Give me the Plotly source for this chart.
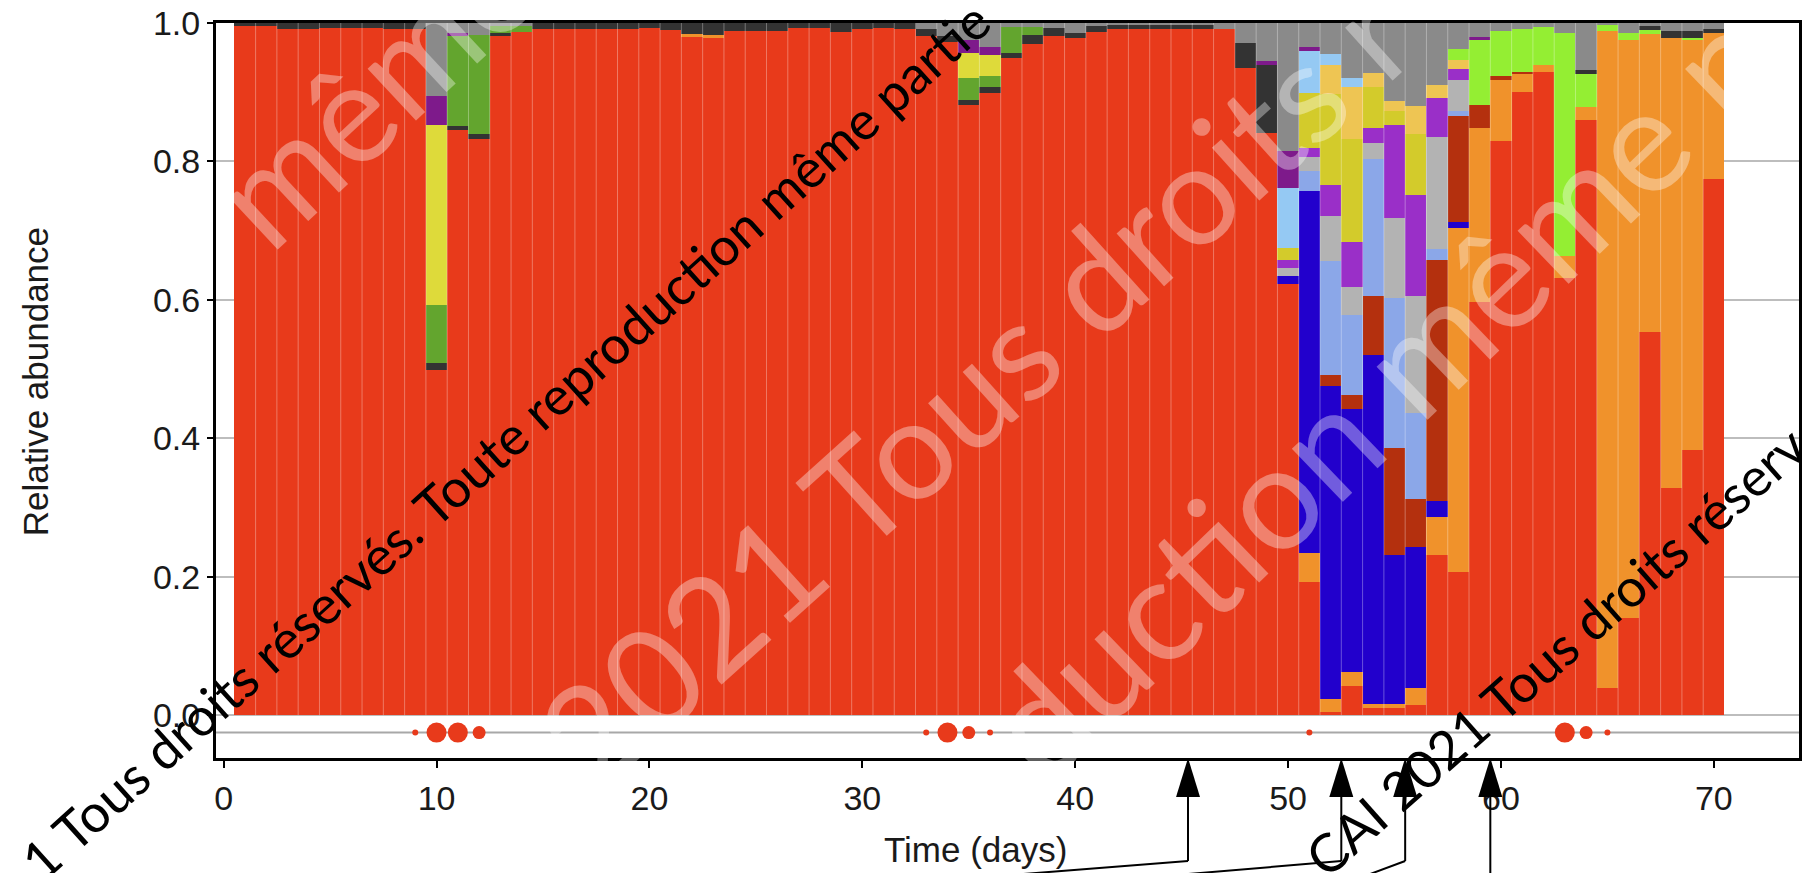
import plotly.graph_objects as go

# ---------------- data ----------------
DAYS = list(range(1, 71))

RED = [0.995, 0.995, 0.991, 0.991, 0.993, 0.993, 0.993, 0.991, 0.991, 0.499,
       0.845, 0.832, 0.981, 0.987, 0.991, 0.991, 0.991, 0.991, 0.991, 0.993,
       0.990, 0.980, 0.979, 0.989, 0.989, 0.989, 0.993, 0.993, 0.987, 0.992,
       0.993, 0.991, 0.981, 0.973, 0.882, 0.899, 0.950, 0.970, 0.981, 0.978,
       0.987, 0.992, 0.992, 0.992, 0.992, 0.992, 0.992, 0.935, 0.841, 0.623,
       0.193, 0.005, 0.043, 0.011, 0.010, 0.015, 0.231, 0.207, 0.597, 0.830,
       0.900, 0.929, 0.632, 0.860, 0.039, 0.140, 0.554, 0.328, 0.383, 0.774]

DARKGRAY = [0.005, 0.005, 0.009, 0.009, 0.007, 0.007, 0.007, 0.009, 0.009, 0.010,
            0.006, 0.007, 0.004, 0.000, 0.009, 0.009, 0.009, 0.009, 0.009, 0.007,
            0.010, 0.016, 0.017, 0.011, 0.011, 0.011, 0.007, 0.007, 0.013, 0.008,
            0.007, 0.009, 0.010, 0.008, 0.007, 0.008, 0.007, 0.012, 0.012, 0.008,
            0.008, 0.005, 0.005, 0.005, 0.005, 0.005, 0.000, 0.036, 0.099, 0.000,
            0.000, 0.000, 0.000, 0.000, 0.000, 0.000, 0.000, 0.000, 0.000, 0.000,
            0.000, 0.000, 0.000, 0.006, 0.000, 0.000, 0.006, 0.010, 0.009, 0.005]

# sparse taxa: {day: relative abundance}
ORANGE = {22: 0.004, 23: 0.004, 51: 0.041, 52: 0.019, 53: 0.019, 54: 0.006, 55: 0.007,
          56: 0.024, 57: 0.055, 58: 0.497, 59: 0.251, 60: 0.088, 61: 0.026, 62: 0.011,
          63: 0.031, 64: 0.019, 65: 0.950, 66: 0.836, 67: 0.430, 68: 0.650, 69: 0.592,
          70: 0.212}
BLUE = {50: 0.011, 51: 0.523, 52: 0.451, 53: 0.381, 54: 0.504, 55: 0.215, 56: 0.204,
        57: 0.024, 58: 0.009}
DARKRED = {52: 0.017, 53: 0.019, 54: 0.084, 55: 0.154, 56: 0.070, 57: 0.347, 58: 0.152,
           59: 0.034, 60: 0.005, 61: 0.003}
PERIWINKLE = {51: 0.029, 52: 0.164, 53: 0.116, 54: 0.198, 55: 0.217, 56: 0.123,
              57: 0.017, 58: 0.008}
LIGHTGRAY = {50: 0.012, 51: 0.021, 52: 0.065, 53: 0.041, 54: 0.024, 55: 0.115,
             56: 0.169, 57: 0.161, 58: 0.044}
VIOLET = {50: 0.012, 51: 0.012, 52: 0.045, 53: 0.065, 54: 0.021, 55: 0.135, 56: 0.147,
          57: 0.056, 58: 0.017}
MUSTARD = {50: 0.017, 51: 0.080, 52: 0.131, 53: 0.149, 54: 0.060, 55: 0.020, 56: 0.087}
GOLD = {52: 0.043, 53: 0.075, 54: 0.020, 55: 0.014, 56: 0.041, 57: 0.019, 58: 0.012}
LIGHTBLUE = {50: 0.086, 51: 0.061, 52: 0.015, 53: 0.012}
LIME = {58: 0.016, 59: 0.093, 60: 0.065, 61: 0.062, 62: 0.054, 63: 0.323, 64: 0.047,
        65: 0.008, 66: 0.009, 67: 0.006, 69: 0.004}
GREEN = {10: 0.084, 11: 0.130, 12: 0.144, 13: 0.010, 14: 0.008, 35: 0.032, 36: 0.016,
         37: 0.037, 38: 0.012}
LEMON = {10: 0.259, 35: 0.036, 36: 0.031}
DARKPURPLE = {10: 0.042, 11: 0.005, 35: 0.019, 36: 0.012, 49: 0.005, 50: 0.054,
              51: 0.006, 59: 0.005}
GRAY = {10: 0.106, 11: 0.014, 12: 0.017, 13: 0.005, 14: 0.005, 33: 0.009, 34: 0.019,
        35: 0.024, 36: 0.034, 37: 0.006, 38: 0.006, 39: 0.007, 40: 0.014, 41: 0.005,
        42: 0.003, 43: 0.003, 44: 0.003, 45: 0.003, 46: 0.003, 47: 0.008, 48: 0.029,
        49: 0.055, 50: 0.185, 51: 0.034, 52: 0.045, 53: 0.080, 54: 0.072, 55: 0.113,
        56: 0.120, 57: 0.090, 58: 0.038, 59: 0.020, 60: 0.012, 61: 0.009, 62: 0.006,
        63: 0.014, 64: 0.068, 65: 0.003, 66: 0.015, 67: 0.004, 68: 0.012, 69: 0.012,
        70: 0.009}

# event markers under the bars (day, marker size class)
DOT_DAYS = [9, 10, 11, 12, 33, 34, 35, 36, 51, 63, 64, 65]
DOT_SIZE = ["s", "l", "l", "m", "s", "l", "m", "s", "s", "l", "m", "s"]
DOT_LEVEL = -0.025

X_TICKS = [0, 10, 20, 30, 40, 50, 60, 70]
Y_TICKS = [0.0, 0.2, 0.4, 0.6, 0.8, 1.0]

ARROW_DAYS = [45.3, 52.5, 55.5, 59.5]
ARROW_LEAD_END = [34.0, 42.0, 53.1, None]

# ---------------- styling ----------------
XMIN, XMAX = -0.36, 74.0
YMIN, YMAX = -0.0617, 1.0
W, H = 1805, 873
ML, MR, MT, MB = 216, 3, 23, 115
PW, PH = W - ML - MR, H - MT - MB

STACK = [
    ("Taxon red", RED, "#E83A1B"),
    ("Taxon orange", ORANGE, "#F0922B"),
    ("Taxon blue", BLUE, "#2200CC"),
    ("Taxon dark red", DARKRED, "#B4300E"),
    ("Taxon periwinkle", PERIWINKLE, "#8BA7E8"),
    ("Taxon light gray", LIGHTGRAY, "#B3B3B3"),
    ("Taxon violet", VIOLET, "#9A2FC8"),
    ("Taxon mustard", MUSTARD, "#D3CB2B"),
    ("Taxon gold", GOLD, "#EEC553"),
    ("Taxon light blue", LIGHTBLUE, "#95C9F3"),
    ("Taxon lime", LIME, "#94EE33"),
    ("Taxon dark gray", DARKGRAY, "#333333"),
    ("Taxon green", GREEN, "#63A52E"),
    ("Taxon lemon", LEMON, "#DEDA3A"),
    ("Taxon dark purple", DARKPURPLE, "#7E1A8B"),
    ("Taxon gray", GRAY, "#8A8A8A"),
]

fig = go.Figure()
for name, series, color in STACK:
    if isinstance(series, dict):
        vals = [series.get(d, 0.0) for d in DAYS]
    else:
        vals = list(series)
    vals = [v if v > 0 else None for v in vals]
    fig.add_trace(go.Bar(x=DAYS, y=vals, name=name, width=1.0,
                         marker=dict(color=color, line=dict(width=0)),
                         showlegend=False))

size_map = {"s": 6, "m": 13, "l": 20}
fig.add_trace(go.Scatter(x=DOT_DAYS, y=[DOT_LEVEL] * len(DOT_DAYS), mode="markers",
                         marker=dict(color="#E83A1B", opacity=1,
                                     size=[size_map[s] for s in DOT_SIZE],
                                     line=dict(width=0)),
                         cliponaxis=False, showlegend=False))

FONT = "Liberation Sans, Arial, sans-serif"
TICKFONT = dict(family=FONT, size=34, color="#1a1a1a")

fig.update_layout(
    width=W, height=H, margin=dict(l=ML, r=MR, t=MT, b=MB),
    barmode="stack", bargap=0, plot_bgcolor="white", paper_bgcolor="white",
    showlegend=False,
)
fig.update_xaxes(range=[XMIN, XMAX], tickvals=X_TICKS, ticks="outside", ticklen=7,
                 tickwidth=2, tickcolor="black", showline=True, linecolor="black",
                 linewidth=3, mirror=True, showgrid=False, zeroline=False,
                 tickfont=TICKFONT, ticklabelstandoff=1)
fig.update_yaxes(range=[YMIN, YMAX], tickvals=Y_TICKS,
                 ticktext=[f"{v:.1f}" for v in Y_TICKS], ticks="outside", ticklen=6,
                 tickwidth=2, tickcolor="black", showline=True, linecolor="black",
                 linewidth=3, mirror=True, showgrid=True, gridcolor="#BDBDBD",
                 gridwidth=2, zeroline=False, tickfont=TICKFONT, ticklabelstandoff=0)

shapes = [dict(type="line", xref="paper", yref="y", x0=0, x1=1, y0=DOT_LEVEL, y1=DOT_LEVEL,
               line=dict(color="#A8A8A8", width=2), layer="below")]

# faint separators between neighbouring sample bars
for a, b in zip(DAYS[:-1], DAYS[1:]):
    xb = (a + b) / 2
    shapes.append(dict(type="line", xref="x", yref="y", x0=xb, x1=xb, y0=0, y1=1,
                       line=dict(color="rgba(255,255,255,0.32)", width=1), layer="above"))


def xp(day):
    return (day - XMIN) / (XMAX - XMIN)


def xpx(px):
    return (px - ML) / PW


def yp(px):
    return (H - MB - px) / PH


HW = 12 / PW
Y_TIP, Y_BASE, Y_STEM, Y_BOT = yp(758), yp(797), yp(861), yp(880)
for d, end in zip(ARROW_DAYS, ARROW_LEAD_END):
    x = xp(d)
    shapes.append(dict(type="path", xref="paper", yref="paper",
                       path=f"M {x - HW},{Y_BASE} L {x},{Y_TIP} L {x + HW},{Y_BASE} Z",
                       fillcolor="black", line=dict(width=0)))
    if end is None:
        shapes.append(dict(type="line", xref="paper", yref="paper", x0=x, x1=x,
                           y0=Y_BASE, y1=Y_BOT, line=dict(color="black", width=2)))
    else:
        shapes.append(dict(type="line", xref="paper", yref="paper", x0=x, x1=x,
                           y0=Y_BASE, y1=Y_STEM, line=dict(color="black", width=2)))
        shapes.append(dict(type="line", xref="paper", yref="paper", x0=x, x1=xp(end),
                           y0=Y_STEM, y1=Y_BOT, line=dict(color="black", width=2)))
fig.update_layout(shapes=shapes)

annotations = [
    dict(text="Relative abundance", xref="paper", yref="paper",
         x=xpx(35), y=yp(382), textangle=-90, showarrow=False,
         xanchor="center", yanchor="middle",
         font=dict(family=FONT, size=35, color="#1a1a1a")),
    dict(text="Time (days)", xref="paper", yref="paper",
         x=xpx(977), y=yp(849), showarrow=False, xanchor="center", yanchor="middle",
         font=dict(family=FONT, size=35, color="#1a1a1a")),
]

# watermark overlay (text, center px x, center px y, size, color, angle)
WM = "rgba(255,255,255,0.36)"
WATERMARKS = [
    ("même", 372, 88, 140, WM, -43),
    ("2021 Tous droits r", 975, 385, 140, WM, -42),
    ("duction même p", 1380, 390, 145, WM, -44),
    ("1 Tous droits réservés. Toute reproduction même partie", 506, 440, 53, "black", -42),
    ("CAI 2021 Tous droits réserv", 1558, 650, 53, "black", -41.5),
]
for text, px, py, size, color, ang in WATERMARKS:
    annotations.append(dict(text=text, xref="paper", yref="paper",
                            x=xpx(px), y=yp(py), showarrow=False,
                            xanchor="center", yanchor="middle", textangle=ang,
                            font=dict(family="Lato, Open Sans, sans-serif", size=size,
                                      color=color)))
fig.update_layout(annotations=annotations)

fig.write_html("out.html", config={"displayModeBar": False},
               post_script="document.body.style.margin='0';document.body.style.overflow='hidden';")
